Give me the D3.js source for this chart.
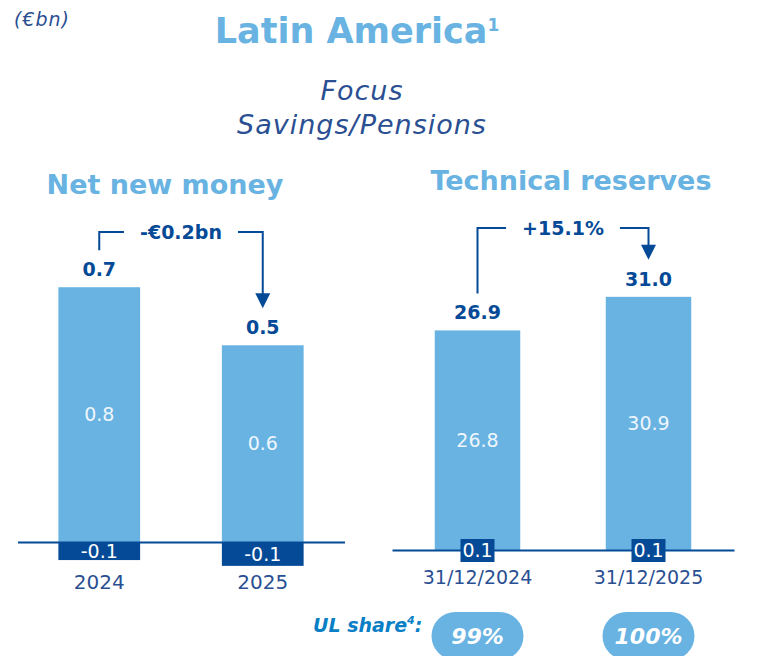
<!DOCTYPE html>
<html>
<head>
<meta charset="utf-8">
<script src="https://cdn.jsdelivr.net/npm/d3@7"></script>
<style>
  body { margin: 0; background: #fff; }
  svg { display: block; font-family: 'DejaVu Sans', sans-serif; }
</style>
</head>
<body>
<div id="chart"></div>
<script>
// Net new money (€bn)
const nnmCats = ['2024', '2025']
const nnmMain = [0.79, 0.61]
const nnmOther = [-0.056, -0.074]

// Technical reserves (€bn)
const trCats = ['31/12/2024', '31/12/2025']
const trMain = [26.8, 30.9]
const trOther = [0.1, 0.1]

const changeLabels = ['-€0.2bn', '+15.1%']
const ulShare = ['99%', '100%']

const width = 757
const height = 656
const lightBlue = '#68B3E2'
const navy = '#054A97'
const textBlue = '#2A4F92'

const svg = d3
  .select('#chart')
  .append('svg')
  .attr('width', width)
  .attr('height', height)

// titles
svg.append('text')
  .attr('x', 14).attr('y', 26)
  .attr('fill', textBlue)
  .style('font-size', '19px').style('font-style', 'italic')
  .style('letter-spacing', '1px')
  .text('(€bn)')

const title = svg.append('text')
  .attr('x', 357).attr('y', 43)
  .attr('text-anchor', 'middle')
  .attr('fill', lightBlue)
  .style('font-size', '35px').style('font-weight', 'bold')
title.append('tspan').text('Latin America')
title.append('tspan').attr('dy', -12).style('font-size', '17px').text('1')

svg.append('text')
  .attr('x', 362).attr('y', 100)
  .attr('text-anchor', 'middle').attr('fill', textBlue)
  .style('font-size', '27px').style('font-style', 'italic')
  .style('letter-spacing', '1px')
  .text('Focus')
svg.append('text')
  .attr('x', 362).attr('y', 134)
  .attr('text-anchor', 'middle').attr('fill', textBlue)
  .style('font-size', '27px').style('font-style', 'italic')
  .style('letter-spacing', '1px')
  .text('Savings/Pensions')

function drawPanel(opt) {
  const g = svg.append('g')
  const rows = opt.cats.map((c, i) => ({
    cat: c,
    main: opt.main[i],
    other: opt.other[i],
    total: opt.main[i] + opt.other[i],
  }))

  const x = d3.scaleBand().domain(opt.cats).range(opt.xRange)
    .paddingInner(0.5).paddingOuter(0.25)
  const y = d3.scaleLinear().domain(opt.yDomain).range(opt.yRange)
  const cx = d => x(d.cat) + x.bandwidth() / 2

  // header
  g.append('text')
    .attr('x', opt.headerX).attr('y', opt.headerY)
    .attr('text-anchor', 'middle').attr('fill', lightBlue)
    .style('font-size', '27px').style('font-weight', 'bold')
    .text(opt.header)

  // main (light) bars
  g.selectAll('.main').data(rows).enter().append('rect')
    .attr('class', 'main')
    .attr('x', d => x(d.cat))
    .attr('y', d => y(d.main))
    .attr('width', x.bandwidth())
    .attr('height', d => y(0) - y(d.main))
    .attr('fill', lightBlue)

  g.selectAll('.main-label').data(rows).enter().append('text')
    .attr('x', cx)
    .attr('y', d => (y(d.main) + y(0)) / 2)
    .attr('dy', '0.35em')
    .attr('text-anchor', 'middle').attr('fill', '#EEF6FC')
    .style('font-size', '19px')
    .text(d => d.main.toFixed(1))

  // other component (negative bar or small boxed label)
  if (opt.otherAsBar) {
    g.selectAll('.other').data(rows).enter().append('rect')
      .attr('x', d => x(d.cat))
      .attr('y', y(0))
      .attr('width', x.bandwidth())
      .attr('height', d => y(d.other) - y(0))
      .attr('fill', navy)
    g.selectAll('.other-label').data(rows).enter().append('text')
      .attr('x', cx)
      .attr('y', d => (y(d.other) + y(0)) / 2)
      .attr('dy', '0.36em')
      .attr('text-anchor', 'middle').attr('fill', '#fff')
      .style('font-size', '19px')
      .text(d => d.other.toFixed(1))
  }

  // baseline + category labels
  const axis = d3.axisBottom(x).tickSize(0).tickSizeOuter(0).tickPadding(opt.catPad)
  const ax = g.append('g')
    .attr('transform', 'translate(0,' + y(0) + ')')
    .call(axis)
  ax.select('.domain').attr('stroke', navy).attr('stroke-width', 2)
  ax.selectAll('text')
    .attr('fill', textBlue)
    .style('font-size', opt.catSize + 'px')
    .style('font-family', "'DejaVu Sans', sans-serif")

  if (!opt.otherAsBar) {
    const box = g.selectAll('.other-box').data(rows).enter().append('g')
      .attr('transform', d => 'translate(' + cx(d) + ',' + y(0) + ')')
    box.append('rect')
      .attr('x', -17).attr('y', -11).attr('width', 34).attr('height', 23)
      .attr('fill', navy)
    box.append('text')
      .attr('text-anchor', 'middle').attr('dy', '0.36em')
      .attr('fill', '#fff').style('font-size', '19px')
      .text(d => d.other.toFixed(1))
  }

  // totals
  g.selectAll('.total').data(rows).enter().append('text')
    .attr('x', cx)
    .attr('y', d => y(d.main) - 11)
    .attr('text-anchor', 'middle').attr('fill', navy)
    .style('font-size', '19px').style('font-weight', 'bold')
    .text(d => d.total.toFixed(1))

  // change bracket
  const a = rows[0], b = rows[1]
  const xa = cx(a), xb = cx(b), yb = opt.bracketY
  const ya = y(a.main) - 37, yc = y(b.main) - 37
  const mid = (xa + xb) / 2
  const lab = g.append('text')
    .attr('x', mid).attr('y', yb).attr('dy', '0.36em')
    .attr('text-anchor', 'middle').attr('fill', navy)
    .style('font-size', '19px').style('font-weight', 'bold')
    .text(opt.change)
  const half = lab.node().getComputedTextLength() / 2 + 16
  g.append('path')
    .attr('d', 'M' + xa + ',' + ya + 'V' + yb + 'H' + (mid - half))
    .attr('fill', 'none').attr('stroke', navy).attr('stroke-width', 2)
  g.append('path')
    .attr('d', 'M' + (mid + half) + ',' + yb + 'H' + xb + 'V' + (yc - 12))
    .attr('fill', 'none').attr('stroke', navy).attr('stroke-width', 2)
  g.append('path')
    .attr('d', 'M' + (xb - 7.5) + ',' + (yc - 15) + 'L' + (xb + 7.5) + ',' + (yc - 15) + 'L' + xb + ',' + yc + 'Z')
    .attr('fill', navy)

  return { x, cx, rows }
}

drawPanel({
  header: 'Net new money', headerX: 165, headerY: 194,
  cats: nnmCats, main: nnmMain, other: nnmOther,
  xRange: [17.5, 344.5], yDomain: [0, 0.8], yRange: [542, 284],
  otherAsBar: true, catPad: 33, catSize: 20,
  change: changeLabels[0], bracketY: 232,
})

const right = drawPanel({
  header: 'Technical reserves', headerX: 571, headerY: 190,
  cats: trCats, main: trMain, other: trOther,
  xRange: [392, 734], yDomain: [0, 31], yRange: [550, 296],
  otherAsBar: false, catPad: 21, catSize: 19,
  change: changeLabels[1], bracketY: 228,
})

// UL share row
const ul = svg.append('text')
  .attr('x', 313).attr('y', 632)
  .attr('fill', '#0A7FC6')
  .style('font-size', '19px').style('font-weight', 'bold').style('font-style', 'italic')
ul.append('tspan').text('UL share')
ul.append('tspan').attr('dy', -8).style('font-size', '11px').text('4')
ul.append('tspan').attr('dy', 8).text(':')

const pills = svg.selectAll('.pill').data(right.rows).enter().append('g')
  .attr('transform', d => 'translate(' + right.cx(d) + ',636)')
pills.append('rect')
  .attr('x', -46).attr('y', -24).attr('width', 92).attr('height', 48)
  .attr('rx', 24).attr('fill', lightBlue)
pills.append('text')
  .attr('text-anchor', 'middle').attr('dy', '0.36em')
  .attr('fill', '#fff')
  .style('font-size', '22px').style('font-weight', 'bold').style('font-style', 'italic')
  .text((d, i) => ulShare[i])
</script>
</body>
</html>
